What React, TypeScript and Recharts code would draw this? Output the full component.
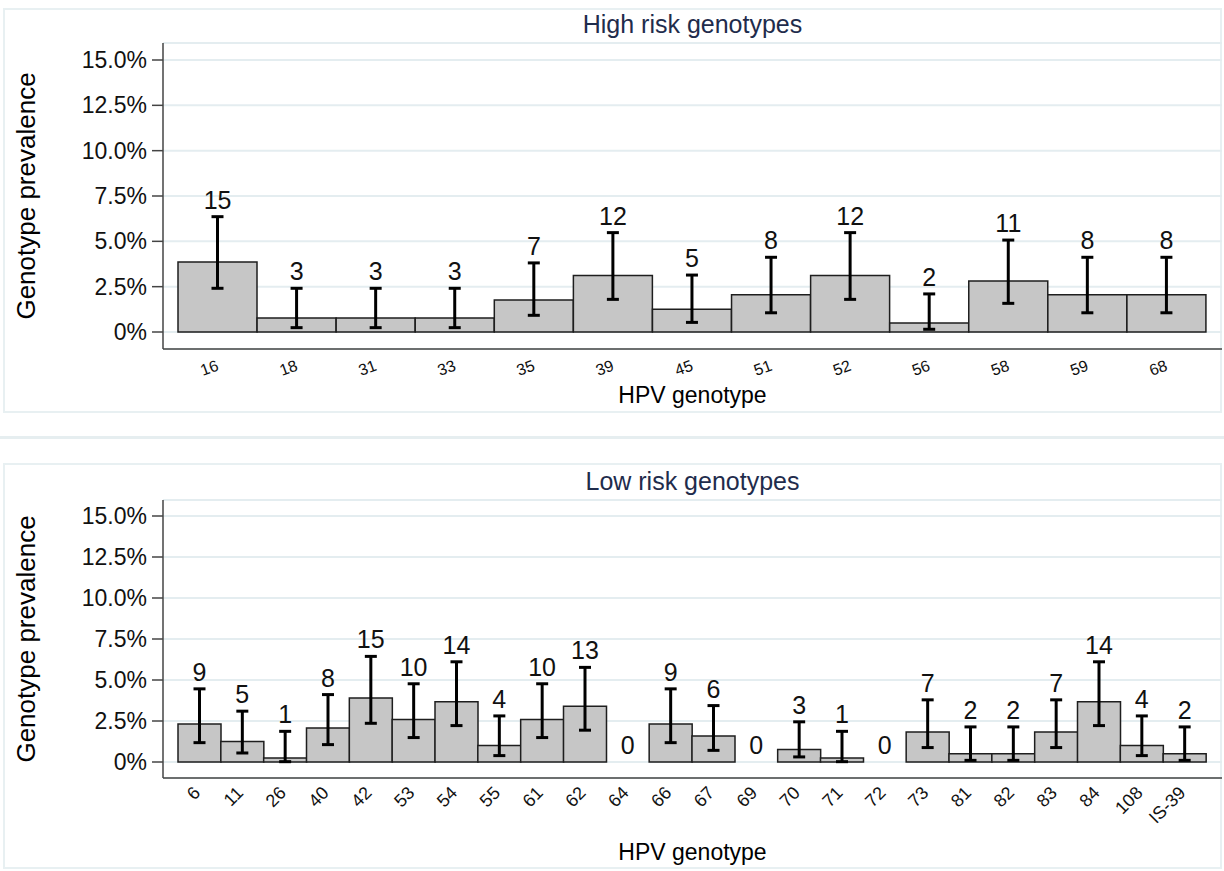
import React from "react";
import {
  ComposedChart,
  Bar,
  Line,
  ErrorBar,
  LabelList,
  XAxis,
  YAxis,
  CartesianGrid,
} from "recharts";

// high risk panel
const hrTypes = ["16", "18", "31", "33", "35", "39", "45", "51", "52", "56", "58", "59", "68"];
const hrCounts = [15, 3, 3, 3, 7, 12, 5, 8, 12, 2, 11, 8, 8];
const hrPrev = [3.86, 0.77, 0.77, 0.77, 1.77, 3.11, 1.25, 2.06, 3.11, 0.5, 2.81, 2.06, 2.06];
const hrLo = [2.41, 0.24, 0.24, 0.24, 0.92, 1.8, 0.53, 1.06, 1.8, 0.15, 1.58, 1.06, 1.06];
const hrHi = [6.36, 2.41, 2.41, 2.41, 3.81, 5.48, 3.14, 4.12, 5.48, 2.1, 5.07, 4.12, 4.12];

// low risk panel
const lrTypes = [
  "6", "11", "26", "40", "42", "53", "54", "55", "61", "62", "64", "66",
  "67", "69", "70", "71", "72", "73", "81", "82", "83", "84", "108", "IS-39",
];
const lrCounts = [9, 5, 1, 8, 15, 10, 14, 4, 10, 13, 0, 9, 6, 0, 3, 1, 0, 7, 2, 2, 7, 14, 4, 2];
const lrPrev = [
  2.32, 1.25, 0.25, 2.08, 3.91, 2.59, 3.67, 1.0, 2.59, 3.4, 0, 2.32,
  1.59, 0, 0.76, 0.25, 0, 1.83, 0.51, 0.51, 1.83, 3.67, 1.0, 0.51,
];
const lrLo = [
  1.18, 0.55, 0.02, 1.06, 2.36, 1.49, 2.22, 0.39, 1.49, 1.94, null, 1.18,
  0.71, null, 0.31, 0.02, null, 0.88, 0.1, 0.1, 0.88, 2.22, 0.39, 0.1,
];
const lrHi = [
  4.46, 3.1, 1.87, 4.11, 6.44, 4.77, 6.11, 2.81, 4.77, 5.77, null, 4.46,
  3.44, null, 2.45, 1.87, null, 3.79, 2.14, 2.14, 3.79, 6.11, 2.81, 2.14,
];

const yTicks = [0, 2.5, 5, 7.5, 10, 12.5, 15];

const FONT = "'Liberation Sans', Arial, sans-serif";
const GRID = "#e4edf0";
const FRAME = "#e8f0f2";

const buildRows = (types, counts, prev, lo, hi) =>
  types.map((t, i) => ({
    type: t,
    n: counts[i],
    prev: prev[i],
    err: lo[i] == null ? null : [prev[i] - lo[i], hi[i] - prev[i]],
    top: hi[i] == null ? prev[i] : hi[i],
  }));

const Panel = ({ title, rows, height, top, xHeight, padTop, padBottom, angle, tickDy, tickFont, titleDy }) => {
  const XTick = ({ x, y, payload }) => {
    const tx = x + 2;
    const ty = y + tickDy;
    return (
      <text
        x={tx}
        y={ty}
        transform={`rotate(${angle} ${tx} ${ty})`}
        textAnchor="end"
        fontSize={tickFont}
        fontFamily={FONT}
        fill="#111"
      >
        {payload.value}
      </text>
    );
  };

  return (
    <div style={{ position: "relative", width: 1224, height }}>
      <div
        style={{
          position: "absolute",
          left: 0,
          width: 1385,
          top: top - 33,
          textAlign: "center",
          fontSize: 25,
          color: "#1f2c4c",
          fontFamily: FONT,
          lineHeight: "28px",
        }}
      >
        {title}
      </div>
      <ComposedChart
        width={1224}
        height={height}
        data={rows}
        margin={{ top, right: 2, bottom: 0, left: 0 }}
        barCategoryGap={0}
        style={{ fontFamily: FONT }}
      >
        <CartesianGrid vertical={false} stroke={GRID} strokeWidth={2} />
        <XAxis
          dataKey="type"
          height={xHeight}
          padding={{ left: 15, right: 16 }}
          tickLine={false}
          tickSize={0}
          interval={0}
          axisLine={{ stroke: "#444", strokeWidth: 1.5 }}
          tick={<XTick />}
          label={{
            value: "HPV genotype",
            content: ({ viewBox }) => (
              <text
                x={viewBox.x + viewBox.width / 2}
                y={viewBox.y + titleDy}
                textAnchor="middle"
                fontSize={23}
                fontFamily={FONT}
                fill="#000"
              >
                HPV genotype
              </text>
            ),
          }}
        />
        <YAxis
          width={163}
          domain={[0, 15]}
          ticks={yTicks}
          padding={{ top: padTop, bottom: padBottom }}
          tickSize={11}
          tickMargin={5}
          tickLine={{ stroke: "#444", strokeWidth: 1.5 }}
          axisLine={{ stroke: "#444", strokeWidth: 1.5 }}
          tick={{ fontSize: 23, fill: "#111", fontFamily: FONT }}
          tickFormatter={(v) => (v === 0 ? "0%" : `${v.toFixed(1)}%`)}
          label={{
            value: "Genotype prevalence",
            content: ({ viewBox }) => {
              const cx = viewBox.x + 26;
              const cy = viewBox.y + viewBox.height / 2;
              return (
                <text
                  x={cx}
                  y={cy}
                  transform={`rotate(-90 ${cx} ${cy})`}
                  textAnchor="middle"
                  dominantBaseline="central"
                  fontSize={26}
                  fontFamily={FONT}
                  fill="#000"
                >
                  Genotype prevalence
                </text>
              );
            },
          }}
        />
        <Bar dataKey="prev" fill="#c6c6c6" stroke="#1e1e1e" strokeWidth={1.5} isAnimationActive={false}>
          <ErrorBar dataKey="err" width={6} stroke="#000" strokeWidth={3} />
        </Bar>
        <Line
          dataKey="top"
          stroke="none"
          dot={false}
          activeDot={false}
          isAnimationActive={false}
        >
          <LabelList
            dataKey="n"
            content={({ x, y, value }) => (
              <text x={x} y={y - 8} textAnchor="middle" fontSize={25} fontFamily={FONT} fill="#111">
                {value}
              </text>
            )}
          />
        </Line>
      </ComposedChart>
    </div>
  );
};

export default function App() {
  const hrRows = buildRows(hrTypes, hrCounts, hrPrev, hrLo, hrHi);
  const lrRows = buildRows(lrTypes, lrCounts, lrPrev, lrLo, lrHi);

  return (
    <div
      style={{
        position: "absolute",
        left: 0,
        top: 0,
        width: 1224,
        height: 871,
        background: "#fff",
        fontFamily: FONT,
      }}
    >
      <div style={{ position: "absolute", left: 3, top: 8, width: 1219, height: 405, border: `2px solid ${FRAME}`, boxSizing: "border-box" }} />
      <div style={{ position: "absolute", left: 0, top: 436, width: 1224, height: 3, background: "#e6eef0" }} />
      <div style={{ position: "absolute", left: 3, top: 463, width: 1219, height: 406, border: `2px solid ${FRAME}`, boxSizing: "border-box" }} />
      <div style={{ position: "absolute", left: 0, top: 0 }}>
        <Panel
          title="High risk genotypes"
          rows={hrRows}
          height={430}
          top={43}
          xHeight={81}
          padTop={17}
          padBottom={17}
          angle={-20}
          tickDy={19}
          tickFont={16}
          titleDy={54}
        />
      </div>
      <div style={{ position: "absolute", left: 0, top: 430 }}>
        <Panel
          title="Low risk genotypes"
          rows={lrRows}
          height={441}
          top={70}
          xHeight={93}
          padTop={16}
          padBottom={16}
          angle={-45}
          tickDy={14}
          tickFont={18}
          titleDy={82}
        />
      </div>
    </div>
  );
}
